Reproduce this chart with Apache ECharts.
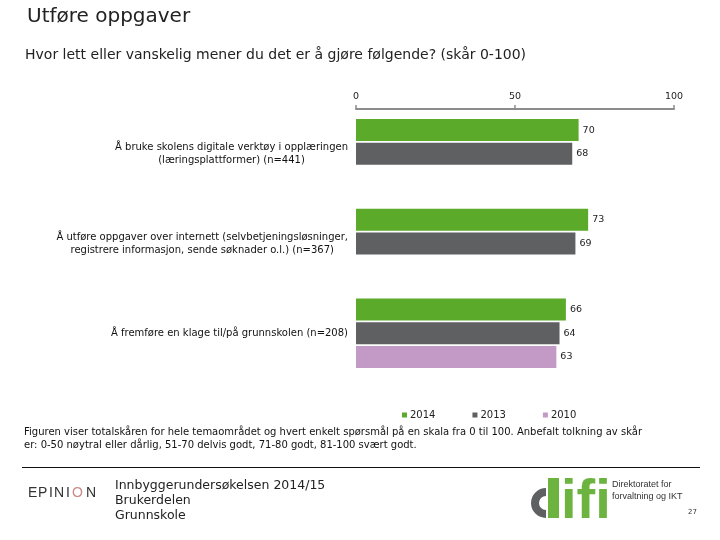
<!DOCTYPE html>
<html>
<head>
<meta charset="utf-8">
<script src="https://cdn.jsdelivr.net/npm/echarts@6/dist/echarts.min.js"></script>
<style>html,body{margin:0;padding:0;background:#fff;}#c{width:720px;height:540px;}</style>
</head>
<body>
<div id="c"></div>
<script>
var categories = [
  ['Å bruke skolens digitale verktøy i opplæringen', '(læringsplattformer) (n=441)'],
  ['Å utføre oppgaver over internett (selvbetjeningsløsninger,', 'registrere informasjon, sende søknader o.l.) (n=367)'],
  ['Å fremføre en klage til/på grunnskolen (n=208)']
];
var seriesNames = ['2014', '2013', '2010'];
var values2014 = [70, 73, 66];
var values2013 = [68, 69, 64];
var values2010 = [null, null, 63];
var xTicks = [0, 50, 100];

var colors = ['#5BAA2A', '#5F6062', '#C399C5'];
var font = 'DejaVu Sans';

var chart = echarts.init(document.getElementById('c'), null, {renderer: 'canvas'});

function makeSeries(name, data, color) {
  return {
    name: name,
    type: 'bar',
    data: data,
    barWidth: 22,
    barGap: '8%',
    itemStyle: {color: color},
    label: {
      show: true,
      position: 'right',
      distance: 4,
      fontFamily: font,
      fontSize: 9.5,
      color: '#222'
    },
    emphasis: {disabled: true},
    animation: false
  };
}

var epinion = [['E', 28, '#333'], ['P', 38, '#333'], ['I', 49, '#333'], ['N', 54, '#333'], ['I', 66, '#333'], ['O', 72, '#c98a8a'], ['N', 86, '#333']];
var epinionGraphics = epinion.map(function (e) {
  return {type: 'text', left: e[1], top: 486, style: {text: e[0], fontFamily: 'Liberation Sans', fontSize: 14, fill: e[2]}};
});

var option = {
  animation: false,
  textStyle: {fontFamily: font},
  grid: {left: 356, right: 46, top: 109, height: 269},
  legend: {
    data: seriesNames,
    left: 397,
    top: 405,
    itemWidth: 5,
    itemHeight: 5,
    itemGap: 37,
    icon: 'rect',
    textStyle: {fontFamily: font, fontSize: 10, color: '#222', padding: [0, 0, 0, -2]}
  },
  xAxis: {
    type: 'value',
    position: 'top',
    min: 0,
    max: 100,
    interval: 50,
    axisLine: {show: true, lineStyle: {color: '#8c8c8c', width: 2}},
    axisTick: {show: true, length: 4, lineStyle: {color: '#8c8c8c', width: 1.5}},
    splitLine: {show: false},
    axisLabel: {
      margin: 7,
      fontFamily: font,
      fontSize: 9.5,
      color: '#222',
      formatter: function (v) { return xTicks.indexOf(v) >= 0 ? String(v) : ''; }
    }
  },
  yAxis: {
    type: 'category',
    inverse: true,
    data: categories.map(function (c) { return c.join('\n'); }),
    axisLine: {show: false},
    axisTick: {show: false},
    axisLabel: {
      margin: 8,
      formatter: function (v) {
        return v.split('\n').map(function (l) { return '{c|' + l + '}'; }).join('\n');
      },
      rich: {
        c: {align: 'center', fontFamily: font, fontSize: 10, lineHeight: 13, color: '#111'}
      }
    }
  },
  series: [
    makeSeries(seriesNames[0], values2014, colors[0]),
    makeSeries(seriesNames[1], values2013, colors[1]),
    makeSeries(seriesNames[2], values2010, colors[2])
  ],
  graphic: [
    {type: 'text', left: 27, top: 7, style: {text: 'Utføre oppgaver', fontFamily: font, fontSize: 20, fill: '#222'}},
    {type: 'text', left: 25, top: 48, style: {text: 'Hvor lett eller vanskelig mener du det er å gjøre følgende? (skår 0-100)', fontFamily: font, fontSize: 14, fill: '#222'}},
    {type: 'text', left: 24, top: 426, style: {text: 'Figuren viser totalskåren for hele temaområdet og hvert enkelt spørsmål på en skala fra 0 til 100. Anbefalt tolkning av skår\ner: 0-50 nøytral eller dårlig, 51-70 delvis godt, 71-80 godt, 81-100 svært godt.', fontFamily: font, fontSize: 10, lineHeight: 13, fill: '#111'}},
    {type: 'line', shape: {x1: 22, y1: 467.5, x2: 700, y2: 467.5}, style: {stroke: '#111', lineWidth: 1}},
    {type: 'text', left: 115, top: 478, style: {text: 'Innbyggerundersøkelsen 2014/15\nBrukerdelen\nGrunnskole', fontFamily: font, fontSize: 12.5, lineHeight: 15, fill: '#222'}},
    {type: 'rect', shape: {x: 548, y: 478, width: 11, height: 40}, style: {fill: '#6cb33f'}},
    {type: 'arc', shape: {cx: 546, cy: 503, r: 11, startAngle: Math.PI / 2, endAngle: Math.PI * 1.5, clockwise: true}, style: {stroke: '#5F6062', lineWidth: 8, fill: null}},
    {type: 'text', left: 561, top: 475, style: {text: 'ifi', fontFamily: 'Liberation Sans', fontWeight: 'bold', fontSize: 56, fill: '#6cb33f'}},
    {type: 'text', left: 612, top: 479, style: {text: 'Direktoratet for\nforvaltning og IKT', fontFamily: 'Liberation Sans', fontSize: 9, lineHeight: 12, fill: '#333'}},
    {type: 'text', left: 688, top: 509, style: {text: '27', fontFamily: font, fontSize: 7, fill: '#333'}}
  ].concat(epinionGraphics)
};
chart.setOption(option);
</script>
</body>
</html>
